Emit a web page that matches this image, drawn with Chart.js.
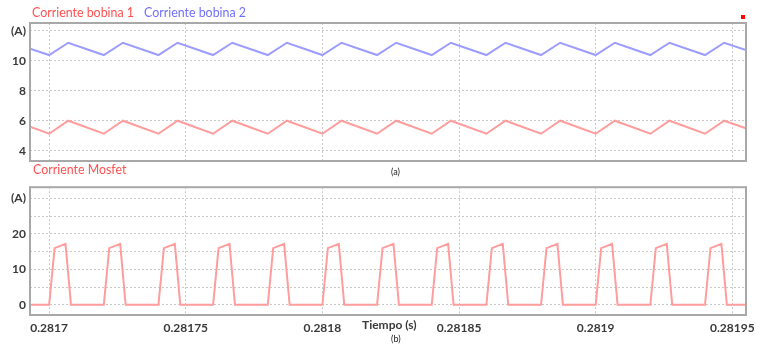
<!DOCTYPE html>
<html>
<head>
<meta charset="utf-8">
<script src="https://cdn.jsdelivr.net/npm/chart.js@4"></script>
<style>
  html, body { margin: 0; padding: 0; background: #fff; }
  #wrap { position: relative; width: 764px; height: 354px; overflow: hidden; font-family: Lato, "Open Sans", sans-serif; }
  #wrap canvas { position: absolute; left: 0; }
  .lbl { position: absolute; white-space: nowrap; line-height: 16px; height: 16px; }
</style>
</head>
<body>
<div id="wrap">
  <canvas id="top" width="764" height="176" style="top:0"></canvas>
  <canvas id="bot" width="764" height="178" style="top:176px"></canvas>
  <div class="lbl" style="left:32px; top:5px; font-size:12.4px; color:#ff5050">Corriente bobina 1</div>
  <div class="lbl" style="left:144px; top:5px; font-size:12.4px; color:#7070ff">Corriente bobina 2</div>
  <div class="lbl" style="left:33px; top:162px; font-size:12.4px; color:#ff5050">Corriente Mosfet</div>
  <div class="lbl" style="left:391px; top:164px; font-size:9px; color:#222">(a)</div>
  <div class="lbl" style="left:362px; top:317px; font-size:12px; font-weight:bold; color:#3a3a3a">Tiempo (s)</div>
  <div class="lbl" style="left:391px; top:331px; font-size:9px; color:#222">(b)</div>
  <div style="position:absolute; left:741px; top:15px; width:4px; height:4px; background:#ff0000"></div>
</div>
<script>
// time in microseconds (281700 us = 0.2817 s)
const X_MIN = 281693, X_MAX = 281955;
const xTicks = [281700, 281750, 281800, 281850, 281900, 281950];
const xLabels = ['0.2817', '0.28175', '0.2818', '0.28185', '0.2819', '0.28195'];

const yTicksTop = [4, 6, 8, 10, 12];
const yLabelsTop = ['4', '6', '8', '10', '(A)'];
const yTicksBot = [0, 5, 10, 15, 20, 25, 30];
const yLabelsBot = ['0', '', '10', '', '20', '', '(A)'];

// coil currents: valley at switch-on, peak ~7 us later
const coilTimes = [281693,
  281700, 281707, 281720, 281727, 281740, 281747, 281760, 281767, 281780, 281787,
  281800, 281807, 281820, 281827, 281840, 281847, 281860, 281867, 281880, 281887,
  281900, 281907, 281920, 281927, 281940, 281947,
  281955];
const bobina1 = [5.6,
  5.13, 6.0, 5.13, 6.0, 5.13, 6.0, 5.13, 6.0, 5.13, 6.0,
  5.13, 6.0, 5.13, 6.0, 5.13, 6.0, 5.13, 6.0, 5.13, 6.0,
  5.13, 6.0, 5.13, 6.0, 5.13, 6.0,
  5.5];
const bobina2 = [10.8,
  10.38, 11.2, 10.38, 11.2, 10.38, 11.2, 10.38, 11.2, 10.38, 11.2,
  10.38, 11.2, 10.38, 11.2, 10.38, 11.2, 10.38, 11.2, 10.38, 11.2,
  10.38, 11.2, 10.38, 11.2, 10.38, 11.2,
  10.72];

// mosfet current pulses
const mosfetTimes = [281693,
  281700, 281702, 281706, 281708,
  281720, 281722, 281726, 281728,
  281740, 281742, 281746, 281748,
  281760, 281762, 281766, 281768,
  281780, 281782, 281786, 281788,
  281800, 281802, 281806, 281808,
  281820, 281822, 281826, 281828,
  281840, 281842, 281846, 281848,
  281860, 281862, 281866, 281868,
  281880, 281882, 281886, 281888,
  281900, 281902, 281906, 281908,
  281920, 281922, 281926, 281928,
  281940, 281942, 281946, 281948,
  281955];
const mosfet = [0,
  0, 16, 17.2, 0,
  0, 16, 17.2, 0,
  0, 16, 17.2, 0,
  0, 16, 17.2, 0,
  0, 16, 17.2, 0,
  0, 16, 17.2, 0,
  0, 16, 17.2, 0,
  0, 16, 17.2, 0,
  0, 16, 17.2, 0,
  0, 16, 17.2, 0,
  0, 16, 17.2, 0,
  0, 16, 17.2, 0,
  0, 16, 17.2, 0,
  0];

function pts(xs, ys) { return xs.map((x, i) => ({ x: x, y: ys[i] })); }

const tickFont = { family: 'Lato, "Open Sans", sans-serif', size: 12, weight: 'bold' };
const gridOpts = { color: '#c8c8c8', lineWidth: 1, drawTicks: false };

const boxPlugin = {
  id: 'box',
  afterDraw(chart) {
    const a = chart.chartArea, ctx = chart.ctx;
    ctx.save();
    ctx.strokeStyle = '#a8a8a8';
    ctx.lineWidth = 2;
    ctx.strokeRect(a.left, a.top, a.right - a.left, a.bottom - a.top);
    ctx.restore();
  }
};

function xScale(showLabels, h) {
  return {
    type: 'linear', min: X_MIN, max: X_MAX,
    afterBuildTicks: s => { s.ticks = xTicks.map(v => ({ value: v })); },
    afterFit: s => { s.height = h; },
    ticks: { display: showLabels, font: tickFont, color: '#3a3a3a', padding: 6, maxRotation: 0,
      callback: (v) => xLabels[xTicks.indexOf(v)] },
    grid: gridOpts,
    border: { display: false, dash: [2, 2] }
  };
}

function yScale(min, max, ticks, labels) {
  return {
    min: min, max: max,
    afterBuildTicks: s => { s.ticks = ticks.map(v => ({ value: v })); },
    afterFit: s => { s.width = 30; },
    ticks: { font: tickFont, color: '#3a3a3a', padding: 4,
      callback: (v) => labels[ticks.indexOf(v)] },
    grid: gridOpts,
    border: { display: false, dash: [2, 2] }
  };
}

const common = {
  responsive: false, animation: false,
  plugins: { legend: { display: false }, tooltip: { enabled: false } },
  elements: { point: { radius: 0 }, line: { tension: 0 } }
};

new Chart(document.getElementById('top'), {
  type: 'line',
  data: { datasets: [
    { label: 'Corriente bobina 1', data: pts(coilTimes, bobina1), borderColor: '#ff9c9c', borderWidth: 2 },
    { label: 'Corriente bobina 2', data: pts(coilTimes, bobina2), borderColor: '#9c9cff', borderWidth: 2 }
  ] },
  options: Object.assign({}, common, {
    layout: { padding: { top: 23, right: 18, left: 0, bottom: 0 } },
    scales: { x: xScale(false, 15), y: yScale(3.31, 12.52, yTicksTop, yLabelsTop) }
  }),
  plugins: [boxPlugin]
});

new Chart(document.getElementById('bot'), {
  type: 'line',
  data: { datasets: [
    { label: 'Corriente Mosfet', data: pts(mosfetTimes, mosfet), borderColor: '#ff9c9c', borderWidth: 2 }
  ] },
  options: Object.assign({}, common, {
    layout: { padding: { top: 5, right: 18, left: 0, bottom: 0 } },
    scales: { x: xScale(true, 39), y: yScale(-2.88, 33.2, yTicksBot, yLabelsBot) }
  }),
  plugins: [boxPlugin]
});
</script>
</body>
</html>
